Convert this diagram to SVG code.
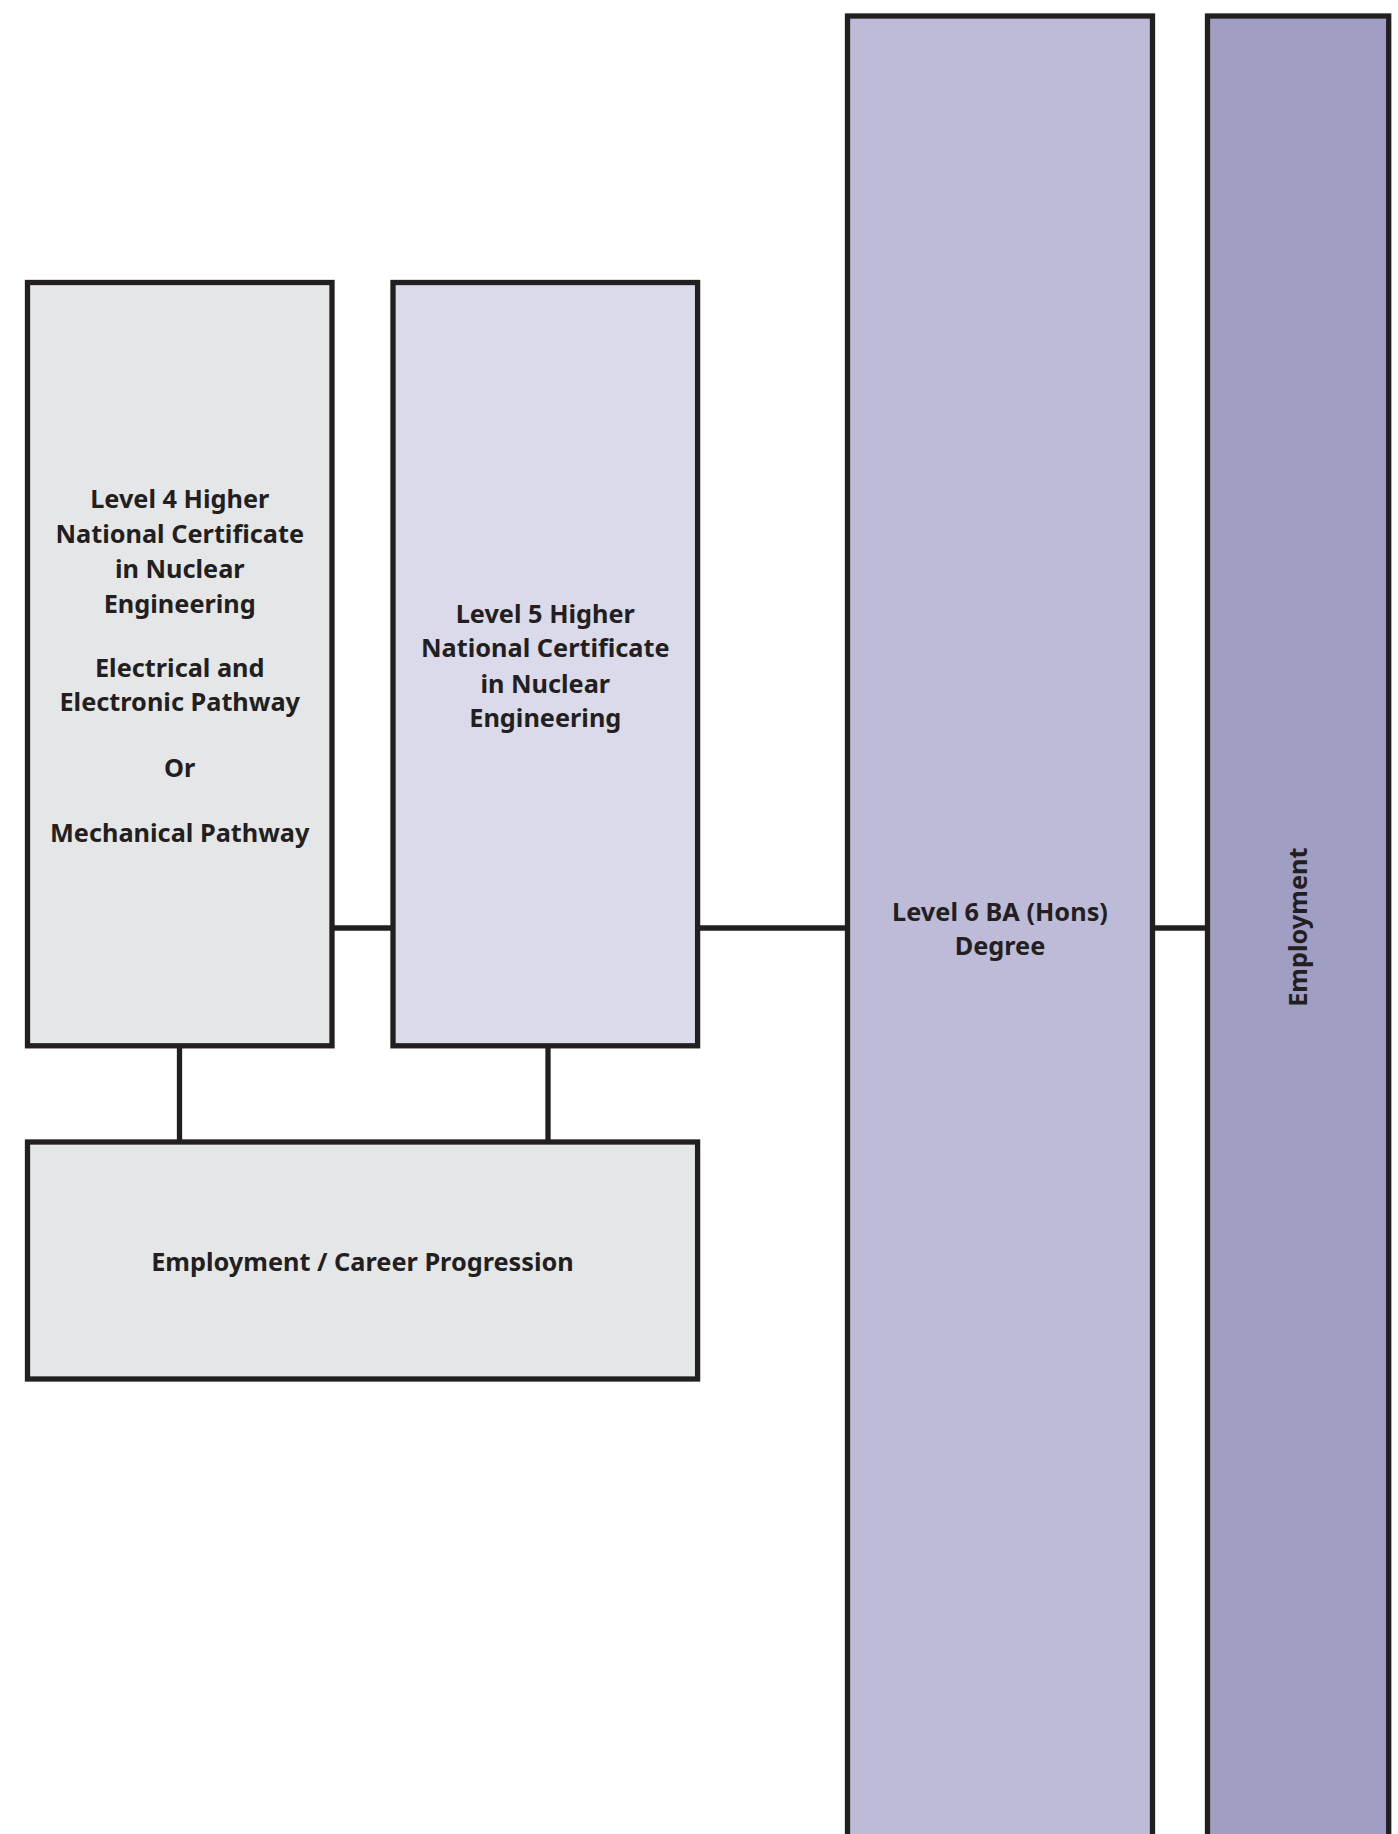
<svg xmlns="http://www.w3.org/2000/svg" width="1398" height="1834" viewBox="0 0 1398 1834">
<style>
.box{stroke:#231F20;stroke-width:5.3}
.conn{stroke:#231F20;stroke-width:5.3;fill:none}
.t{font-family:"Noto Sans","Open Sans","Liberation Sans",sans-serif;font-weight:bold;font-size:25.3px;fill:#231F20;text-anchor:middle}
</style>
<rect width="1398" height="1834" fill="#ffffff"/>
<g id="connectors">
<line class="conn" x1="332" y1="928" x2="393" y2="928"/>
<line class="conn" x1="697.6" y1="928" x2="847.5" y2="928"/>
<line class="conn" x1="1152.5" y1="928" x2="1207.5" y2="928"/>
<line class="conn" x1="179.5" y1="1045.8" x2="179.5" y2="1142"/>
<line class="conn" x1="548" y1="1045.8" x2="548" y2="1142"/>
</g>
<g id="level4">
<rect class="box" x="27.5" y="282.5" width="304.5" height="763.3" fill="#E5E6E8"/>
<text class="t" x="179.75" y="507.7">Level 4 Higher</text>
<text class="t" x="179.75" y="542.7">National Certificate</text>
<text class="t" x="179.75" y="577.7">in Nuclear</text>
<text class="t" x="179.75" y="612.7">Engineering</text>
<text class="t" x="179.75" y="676.7">Electrical and</text>
<text class="t" x="179.75" y="711">Electronic Pathway</text>
<text class="t" x="179.75" y="776.7">Or</text>
<text class="t" x="179.75" y="841.7">Mechanical Pathway</text>
</g>
<g id="level5">
<rect class="box" x="393" y="282.5" width="304.6" height="763.3" fill="#DADAEA"/>
<text class="t" x="545.3" y="622.7">Level 5 Higher</text>
<text class="t" x="545.3" y="657.3">National Certificate</text>
<text class="t" x="545.3" y="692.5">in Nuclear</text>
<text class="t" x="545.3" y="727">Engineering</text>
</g>
<g id="career">
<rect class="box" x="27.5" y="1142" width="670.1" height="237" fill="#E5E6E8"/>
<text class="t" x="362.5" y="1271">Employment / Career Progression</text>
</g>
<g id="level6">
<rect class="box" x="847.5" y="16" width="305" height="1840" fill="#BDBBD8"/>
<text class="t" x="1000" y="921">Level 6 BA (Hons)</text>
<text class="t" x="1000" y="955.3">Degree</text>
</g>
<g id="employment">
<rect class="box" x="1207.5" y="16" width="181.2" height="1840" fill="#A09EC3"/>
<text class="t" transform="translate(1306.7,927.2) rotate(-90)" x="0" y="0">Employment</text>
</g>
</svg>
